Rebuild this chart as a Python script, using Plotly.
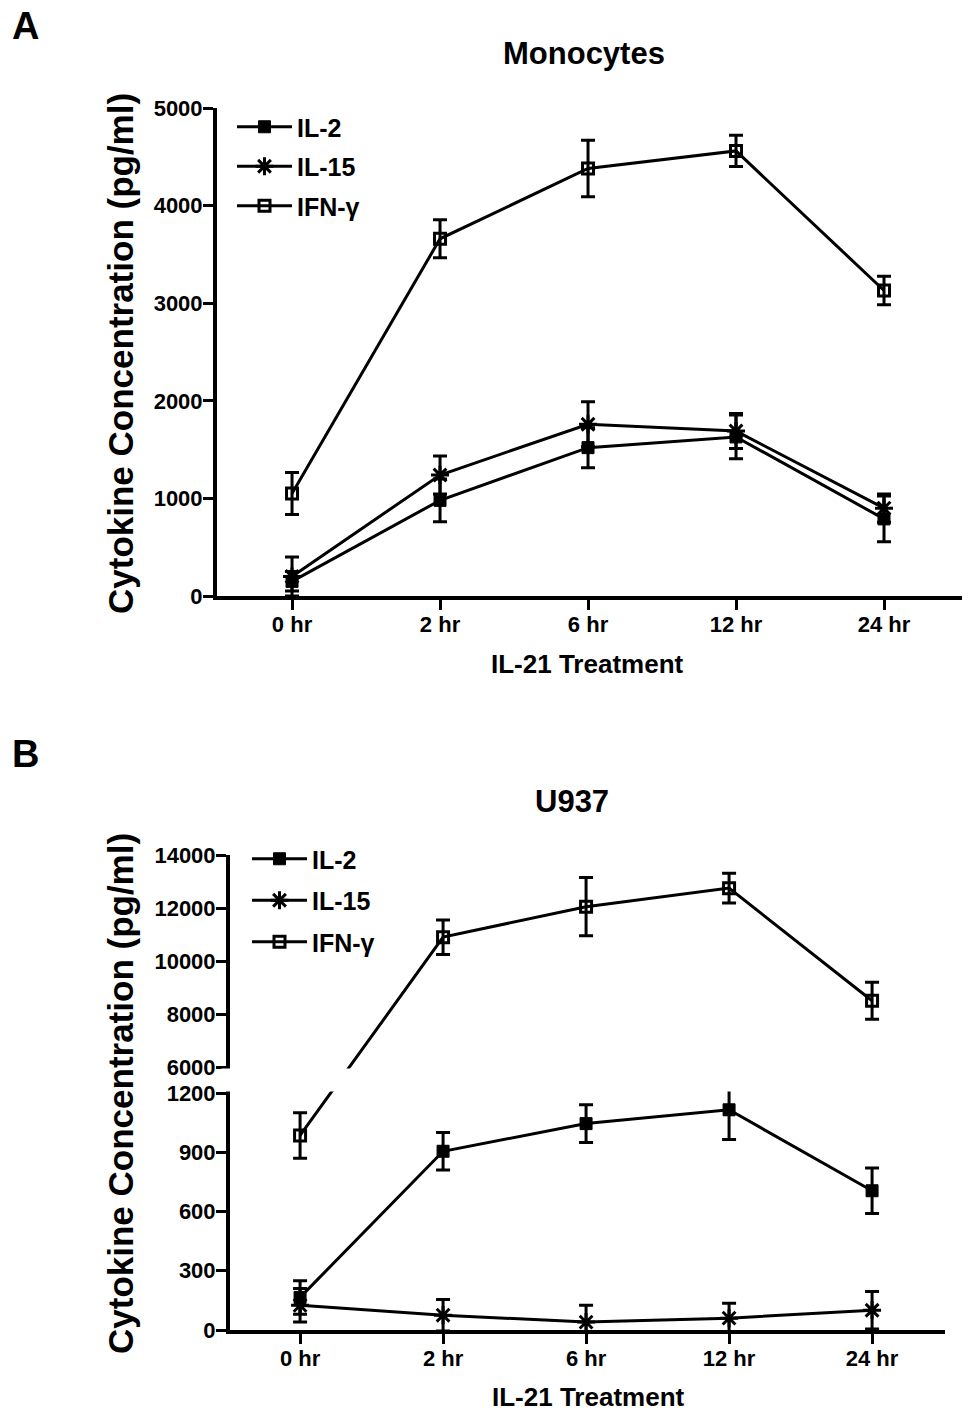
import plotly.graph_objects as go

# ---------------- data ----------------
timepoints = ["0 hr", "2 hr", "6 hr", "12 hr", "24 hr"]

# Panel A - Monocytes
mono_il2 = [150, 980, 1520, 1630, 790]
mono_il2_err = [100, 220, 205, 225, 235]
mono_il15 = [200, 1240, 1760, 1690, 900]
mono_il15_err = [200, 195, 230, 180, 145]
mono_ifn = [1050, 3660, 4380, 4560, 3130]
mono_ifn_err = [215, 195, 290, 160, 145]

# Panel B - U937
u937_il2 = [165, 905, 1045, 1115, 705]
u937_il2_err = [85, 95, 95, 150, 115]
u937_il15 = [125, 75, 40, 60, 100]
u937_il15_err = [85, 80, 85, 75, 95]
u937_ifn = [985, 10900, 12050, 12750, 8500]
u937_ifn_err = [115, 650, 1100, 560, 700]

ticks_a = [0, 1000, 2000, 3000, 4000, 5000]
ticks_b_low = [0, 300, 600, 900, 1200]
ticks_b_high = [6000, 8000, 10000, 12000, 14000]

# ---------------- broken-axis scale for panel B ----------------
LOW_MAX, LOW_LEN = 1200, 237.0
GAP = 26.0
HIGH_MIN, HIGH_MAX, HIGH_LEN = 6000, 14000, 212.0


def bscale(v):
    if v <= (LOW_MAX + HIGH_MIN) / 2:
        return v * LOW_LEN / LOW_MAX
    return LOW_LEN + GAP + (v - HIGH_MIN) * HIGH_LEN / (HIGH_MAX - HIGH_MIN)


W, H = 975, 1421
FONT = "Arial, Liberation Sans, sans-serif"
BLACK = "#000000"

styles = {
    "IL-2": dict(symbol="square", size=12, color=BLACK, line=dict(color=BLACK, width=1)),
    "IL-15": dict(symbol="asterisk-open", size=15, color=BLACK, line=dict(color=BLACK, width=3)),
    "IFN-γ": dict(symbol="square-open", size=11, color=BLACK, line=dict(color=BLACK, width=3)),
}

fig = go.Figure()

series_a = [("IL-2", mono_il2, mono_il2_err), ("IL-15", mono_il15, mono_il15_err),
            ("IFN-γ", mono_ifn, mono_ifn_err)]
for name, vals, errs in series_a:
    fig.add_trace(go.Scatter(
        x=timepoints, y=vals, name=name, mode="lines+markers",
        line=dict(color=BLACK, width=3), marker=styles[name],
        error_y=dict(type="data", array=errs, visible=True, color=BLACK, thickness=3, width=7),
        xaxis="x", yaxis="y", legend="legend", legendgroup="a" + name,
    ))

series_b = [("IL-2", u937_il2, u937_il2_err), ("IL-15", u937_il15, u937_il15_err),
            ("IFN-γ", u937_ifn, u937_ifn_err)]
for name, vals, errs in series_b:
    yd = [bscale(v) for v in vals]
    up = [bscale(v + e) - bscale(v) for v, e in zip(vals, errs)]
    dn = [bscale(v) - bscale(v - e) for v, e in zip(vals, errs)]
    fig.add_trace(go.Scatter(
        x=timepoints, y=yd, name=name, mode="lines+markers",
        line=dict(color=BLACK, width=3), marker=styles[name],
        customdata=vals, hovertemplate="%{x}: %{customdata}<extra>" + name + "</extra>",
        error_y=dict(type="data", symmetric=False, array=up, arrayminus=dn, visible=True,
                     color=BLACK, thickness=3, width=7),
        xaxis="x2", yaxis="y2", legend="legend2", legendgroup="b" + name,
    ))


def px_x(p):
    return p / W


def px_y(p):
    return (H - p) / H


tickfont = dict(family=FONT, size=22, color=BLACK, weight="bold")
common_axis = dict(showline=True, linewidth=4, linecolor=BLACK, ticks="outside",
                   ticklen=10, tickwidth=3, tickcolor=BLACK, showgrid=False,
                   zeroline=False, tickfont=tickfont, automargin=False,
                   ticklabelstandoff=-4)

fig.update_layout(
    width=W, height=H,
    margin=dict(l=0, r=0, t=0, b=0, autoexpand=False),
    paper_bgcolor="white", plot_bgcolor="white",
    font=dict(family=FONT, color=BLACK),
    xaxis=dict(domain=[px_x(217), px_x(962)], anchor="y", range=[-0.507, 4.527], **common_axis),
    yaxis=dict(domain=[px_y(596), px_y(108)], anchor="x", range=[0, 5000],
               tickvals=ticks_a, ticktext=[str(t) for t in ticks_a], **common_axis),
    xaxis2=dict(domain=[px_x(230), px_x(945)], anchor="y2", range=[-0.49, 4.51], **common_axis),
    yaxis2=dict(domain=[px_y(1330), px_y(855)], anchor="x2",
                range=[0, bscale(HIGH_MAX)],
                tickvals=[bscale(t) for t in ticks_b_low + ticks_b_high],
                ticktext=[str(t) for t in ticks_b_low + ticks_b_high],
                **common_axis),
    legend=dict(x=px_x(232), y=px_y(104), xanchor="left", yanchor="top",
                bgcolor="rgba(0,0,0,0)", itemwidth=55, tracegroupgap=4,
                font=dict(family=FONT, size=25, color=BLACK, weight="bold")),
    legend2=dict(x=px_x(247), y=px_y(836), xanchor="left", yanchor="top",
                 bgcolor="rgba(0,0,0,0)", itemwidth=55, tracegroupgap=6,
                 font=dict(family=FONT, size=25, color=BLACK, weight="bold")),
    showlegend=True,
)

# white band that breaks the panel-B y axis (and the IFN-γ line) between 1200 and 6000
fig.add_shape(type="rect", xref="x2 domain", yref="y2",
              x0=-0.012, x1=1.0, y0=bscale(LOW_MAX) + 1.6, y1=bscale(HIGH_MIN) - 1.6,
              fillcolor="white", line=dict(width=0), layer="above")

ann_font = dict(family=FONT, color=BLACK, weight="bold")


def label(text, x, y, size, angle=0):
    fig.add_annotation(text=text, x=px_x(x), y=px_y(y), xref="paper", yref="paper",
                       showarrow=False, xanchor="center", yanchor="middle", textangle=angle,
                       font=dict(size=size, **ann_font))


label("Monocytes", 584, 54, 31)
label("U937", 572, 801, 31)
label("A", 25, 26, 38)
label("B", 25, 754, 38)
label("Cytokine Concentration (pg/ml)", 120, 354, 35, -90)
label("Cytokine Concentration (pg/ml)", 120, 1094, 35, -90)
label("IL-21 Treatment", 587, 664, 26)
label("IL-21 Treatment", 588, 1397, 26)

fig.write_html("out.html", config={"displayModeBar": False},
               post_script="document.body.style.margin='0';")
